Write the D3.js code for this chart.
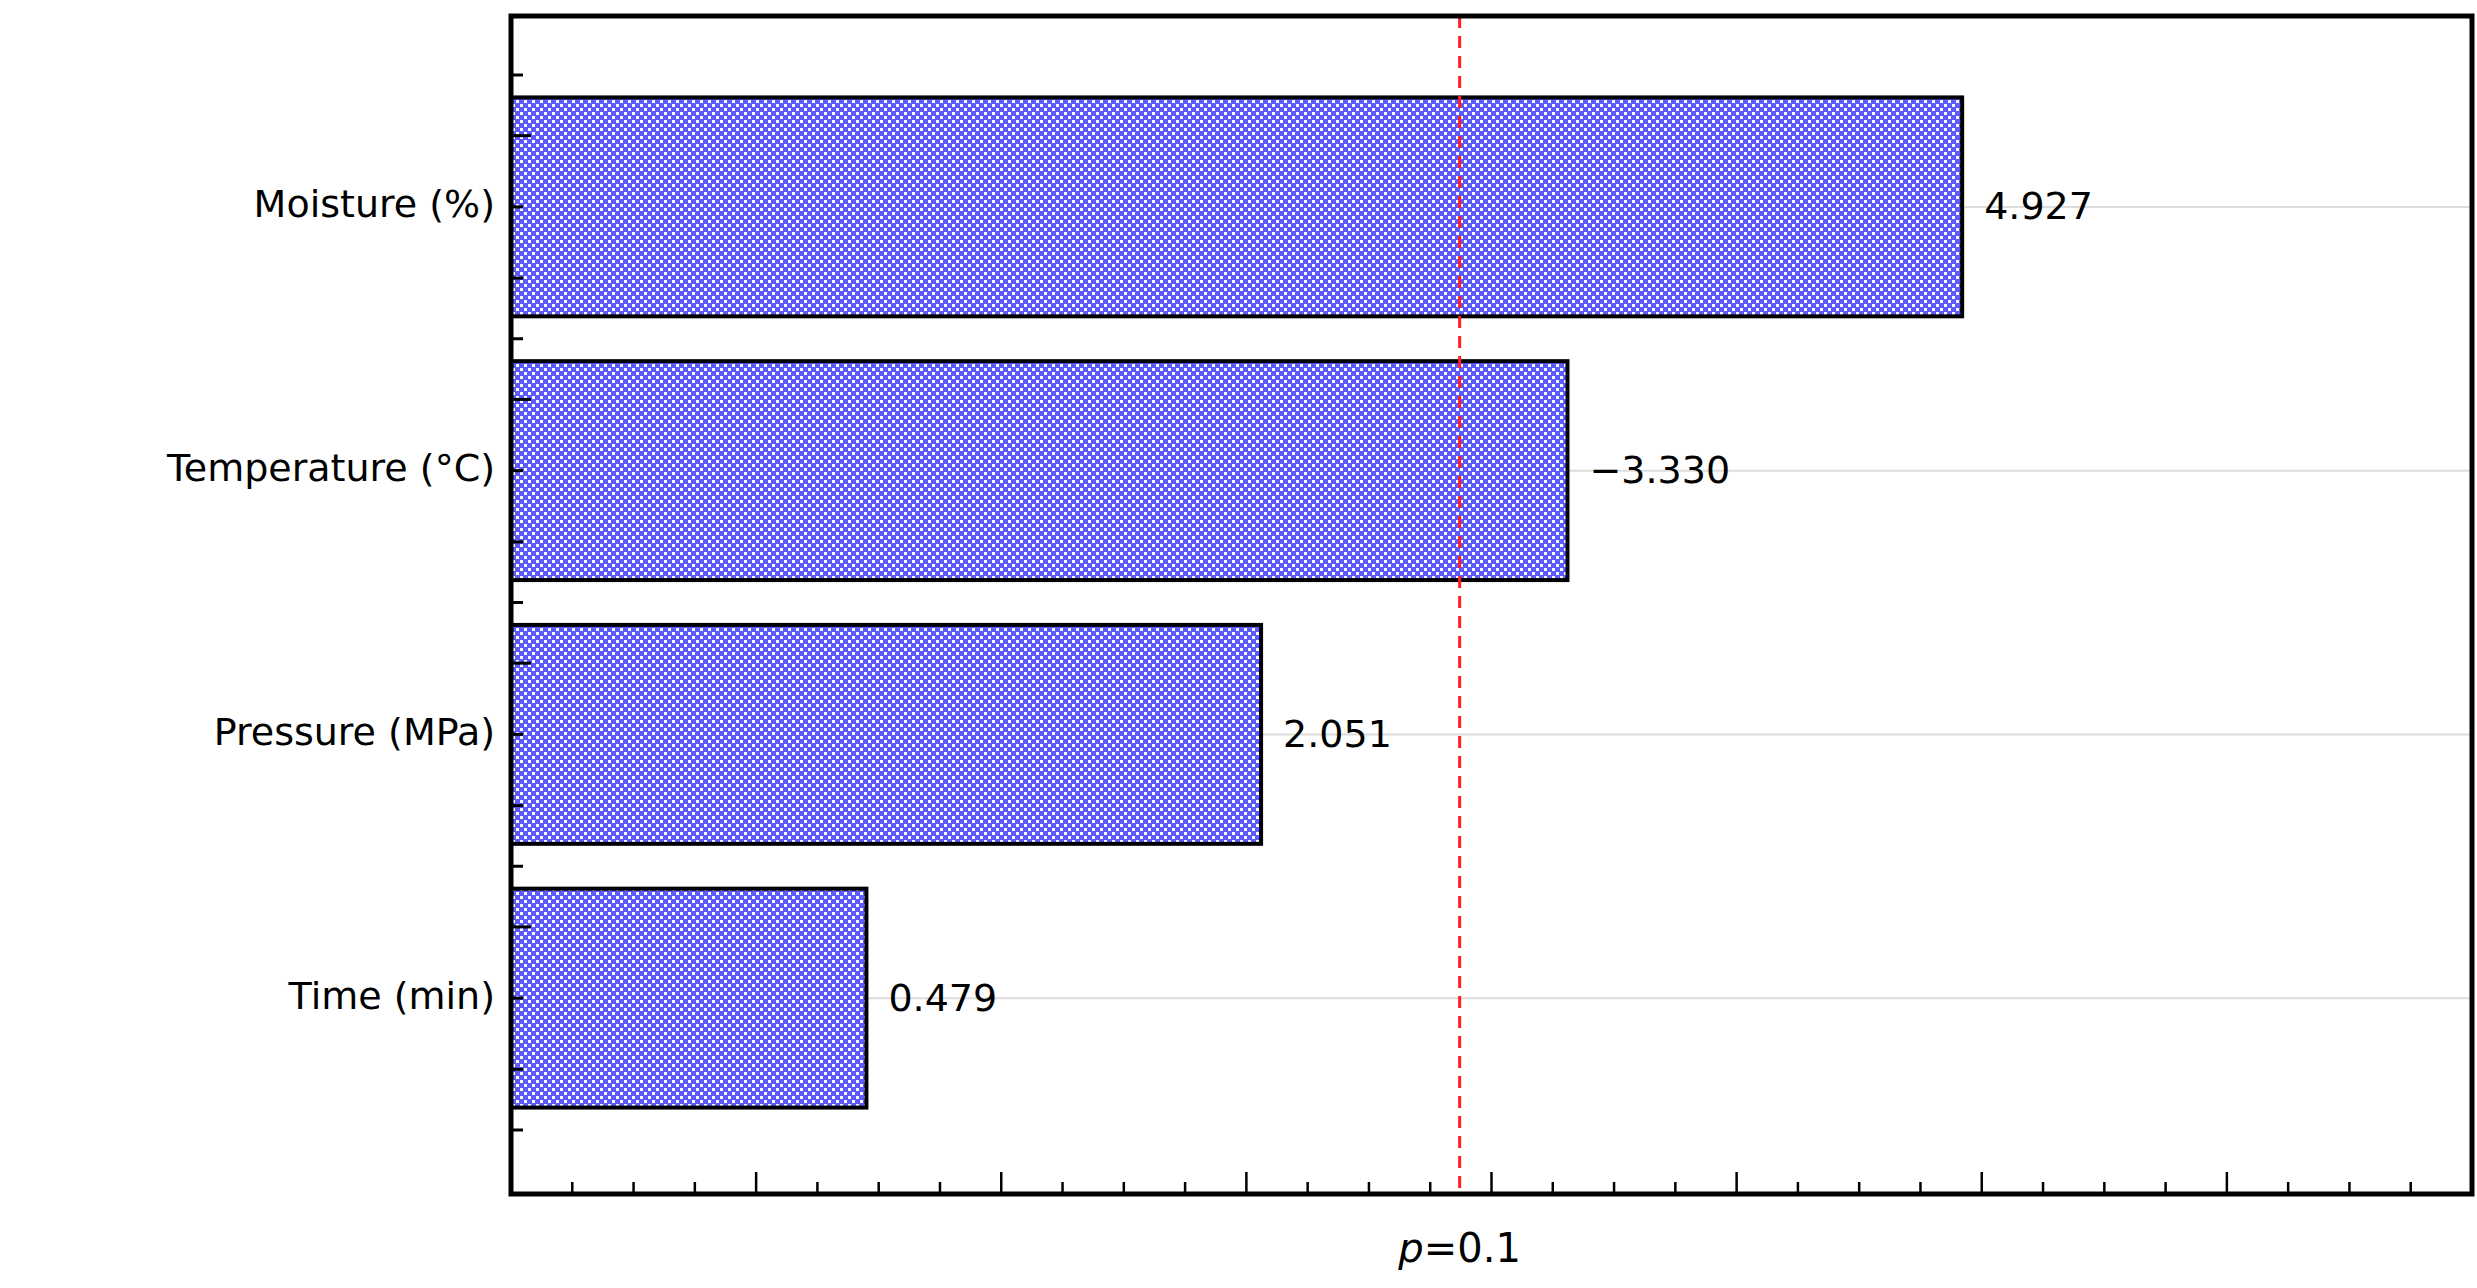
<!DOCTYPE html>
<html><head><meta charset="utf-8">
<script src="https://cdn.jsdelivr.net/npm/d3@7"></script>
<style>body{margin:0;background:#fff}</style></head>
<body><svg id="c" width="2477" height="1288"></svg>
<script>
const categories = ["Moisture (%)", "Temperature (\u00B0C)", "Pressure (MPa)", "Time (min)"];
const values = [5.92, 4.31, 3.06, 1.45];
const valueLabels = ["4.927", "\u22123.330", "2.051", "0.479"];
const threshold = 3.87;
const thresholdLabel = "=0.1";

const svg = d3.select("#c");
const L = 511, R = 2472, T = 16, B = 1194;
const x = d3.scaleLinear().domain([0, 8]).range([L, R]);
const y = d3.scaleBand().domain(categories).range([75, 1130]).paddingInner(0.17).paddingOuter(0.085);

const defs = svg.append("defs");
const pat = defs.append("pattern").attr("id","dots").attr("patternUnits","userSpaceOnUse").attr("width",8).attr("height",8);
pat.append("rect").attr("width",8).attr("height",8).attr("fill","#5b5bff");
pat.append("rect").attr("x",0).attr("y",0).attr("width",3).attr("height",3).attr("fill","#fff");
pat.append("rect").attr("x",4).attr("y",4).attr("width",3).attr("height",3).attr("fill","#fff");

// gridlines
svg.append("g").selectAll("line").data(categories).join("line")
  .attr("x1", L).attr("x2", R)
  .attr("y1", d => y(d) + y.bandwidth()/2).attr("y2", d => y(d) + y.bandwidth()/2)
  .attr("stroke", "#dcdcdc").attr("stroke-width", 2);

// bars
svg.append("g").selectAll("rect").data(categories).join("rect")
  .attr("x", x(0)).attr("y", d => y(d))
  .attr("width", (d,i) => x(values[i]) - x(0)).attr("height", y.bandwidth())
  .attr("fill", "url(#dots)").attr("stroke", "#000").attr("stroke-width", 4);

// value labels
svg.append("g").selectAll("text").data(categories).join("text")
  .attr("x", (d,i) => x(values[i]) + 22).attr("y", d => y(d) + y.bandwidth()/2 + 2)
  .attr("dominant-baseline", "middle")
  .attr("font-family", "DejaVu Sans, sans-serif").attr("font-size", 38)
  .text((d,i) => valueLabels[i]);

// category labels
svg.append("g").selectAll("text").data(categories).join("text")
  .attr("x", 495).attr("y", d => y(d) + y.bandwidth()/2)
  .attr("text-anchor", "end").attr("dominant-baseline", "middle")
  .attr("font-family", "DejaVu Sans, sans-serif").attr("font-size", 38)
  .text(d => d);

// x ticks (inside)
const xt = d3.range(0, 8.001, 0.25);
svg.append("g").selectAll("line").data(xt).join("line")
  .attr("x1", d => x(d)).attr("x2", d => x(d))
  .attr("y1", B).attr("y2", d => B - (Math.abs(d - Math.round(d)) < 1e-6 ? 22 : 12))
  .attr("stroke", "#000").attr("stroke-width", 2.5);

// y ticks (inside)
const yt = [];
categories.forEach(c => {
  const s = y.step(), c0 = y(c) + y.bandwidth()/2;
  yt.push({v: c0 - s/2, long: false}, {v: c0 - s*0.27, long: true}, {v: c0, long: false}, {v: c0 + s*0.27, long: false});
});
yt.push({v: y(categories[3]) + y.bandwidth()/2 + y.step()/2, long: false});
svg.append("g").selectAll("line").data(yt).join("line")
  .attr("x1", L).attr("x2", d => L + (d.long ? 20 : 12))
  .attr("y1", d => d.v).attr("y2", d => d.v)
  .attr("stroke", "#000").attr("stroke-width", 3);

// threshold
svg.append("line").attr("x1", x(threshold)).attr("x2", x(threshold)).attr("y1", T).attr("y2", B)
  .attr("stroke", "#ff2020").attr("stroke-width", 3).attr("stroke-dasharray", "12,8");
const tl = svg.append("text").attr("x", x(threshold)).attr("y", 1262).attr("text-anchor", "middle")
  .attr("font-family", "DejaVu Sans, sans-serif").attr("font-size", 40);
tl.append("tspan").attr("font-style", "italic").text("p");
tl.append("tspan").text(thresholdLabel);

// frame
svg.append("rect").attr("x", L).attr("y", T).attr("width", R - L).attr("height", B - T)
  .attr("fill", "none").attr("stroke", "#000").attr("stroke-width", 5);
</script></body></html>
